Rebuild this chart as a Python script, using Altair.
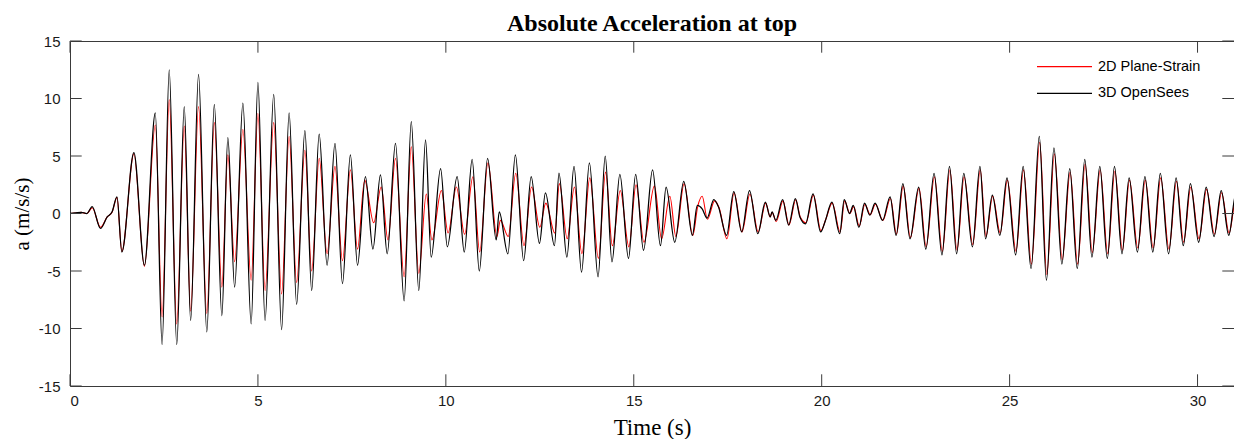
import altair as alt
import pandas as pd

# ---- data (extrema of each oscillation) ----
t_3d = [0.0, 0.14, 0.30, 0.45, 0.59, 0.81, 0.99, 1.12, 1.25, 1.38, 1.70, 1.98, 2.27, 2.45,
        2.64, 2.84, 3.04, 3.21, 3.42, 3.64, 3.84, 4.04, 4.20, 4.38, 4.60, 4.82, 5.00,
        5.19, 5.42, 5.63, 5.83, 6.03, 6.25, 6.43, 6.63, 6.84, 7.05, 7.25, 7.46, 7.65,
        7.86, 8.06, 8.26, 8.44, 8.66, 8.89, 9.08, 9.28, 9.46, 9.61, 9.86, 10.04, 10.30,
        10.49, 10.70, 10.89, 11.11, 11.34, 11.42, 11.65, 11.85, 12.07, 12.27, 12.49, 12.65,
        12.89, 13.01, 13.22, 13.41, 13.61, 13.82, 14.05, 14.24, 14.42, 14.63, 14.86, 15.05,
        15.26, 15.50, 15.71, 15.86, 16.09, 16.33, 16.56, 16.69, 16.82, 16.95, 17.13, 17.25,
        17.47, 17.66, 17.87, 18.08, 18.30, 18.50, 18.63, 18.68, 18.78, 18.96, 19.12, 19.30,
        19.42, 19.57, 19.77, 19.97, 20.10, 20.27, 20.48, 20.60, 20.74, 20.84, 20.99, 21.14,
        21.28, 21.42, 21.62, 21.82, 21.98, 22.16, 22.35, 22.58, 22.77, 22.99, 23.20, 23.40,
        23.59, 23.78, 24.01, 24.21, 24.36, 24.54, 24.74, 24.93, 25.16, 25.36, 25.57, 25.79,
        25.98, 26.18, 26.39, 26.60, 26.80, 27.00, 27.19, 27.40, 27.60, 27.79, 27.99, 28.18,
        28.40, 28.60, 28.81, 29.01, 29.23, 29.43, 29.62, 29.81, 30.03, 30.23, 30.44, 30.63,
        30.83, 31.02, 31.10]
a_3d = [0.0, 0.05, 0.1, 0.0, 0.6, -1.3, -0.3, 0.15, 1.45, -3.35, 5.3, -4.5, 8.75, -11.4,
        12.5, -11.4, 9.3, -9.3, 12.1, -10.3, 9.5, -8.9, 6.6, -6.4, 9.6, -9.6, 11.4,
        -9.3, 10.35, -10.1, 8.75, -7.9, 7.2, -6.7, 6.9, -4.5, 6.1, -6.1, 5.1, -4.5,
        3.2, -3.1, 3.35, -3.5, 6.1, -7.6, 8.0, -6.7, 6.4, -3.8, 3.9, -2.9, 3.2,
        -3.35, 4.7, -5.0, 4.8, -2.3, 0.15, -3.5, 5.1, -4.1, 3.2, -2.6, 1.8,
        -2.8, 3.5, -3.8, 4.1, -5.1, 4.4, -5.5, 5.0, -4.2, 3.4, -3.9, 3.4,
        -3.2, 3.8, -2.8, 2.3, -2.5, 2.8, -1.9, 0.7, 0.4, -0.4, 1.2, 0.6,
        -1.9, 1.9, -1.6, 2.0, -1.75, 1.0, -0.3, 0.15, -0.6, 1.2, -1.0, 1.3,
        -0.3, -0.9, 1.7, -1.6, -0.6, 1.0, -1.75, 1.2, 0.0, 0.7, -1.2, 0.9,
        -0.15, 0.9, -0.6, 1.45, -1.9, 2.6, -2.2, 2.3, -3.1, 3.5, -3.6, 4.1,
        -3.5, 3.5, -2.9, 4.1, -2.2, 1.6, -1.9, 3.1, -3.6, 4.1, -4.8, 6.7,
        -5.8, 5.7, -4.4, 3.9, -4.8, 4.7, -3.8, 4.1, -3.9, 4.1, -3.5, 3.1,
        -3.35, 3.2, -3.35, 3.5, -3.5, 3.1, -2.8, 2.6, -2.5, 2.3, -2.0, 2.0,
        -1.9, 1.75, 0.6]

t_2d = [0.0, 0.14, 0.30, 0.45, 0.59, 0.81, 0.99, 1.12, 1.25, 1.38, 1.70, 1.98, 2.27, 2.45,
        2.64, 2.84, 3.04, 3.21, 3.42, 3.64, 3.84, 4.04, 4.20, 4.38, 4.60, 4.82, 5.00,
        5.19, 5.42, 5.63, 5.83, 6.03, 6.25, 6.43, 6.63, 6.84, 7.05, 7.25, 7.46, 7.65,
        7.84, 8.08, 8.28, 8.46, 8.66, 8.89, 9.08, 9.28, 9.48, 9.63, 9.88, 10.06, 10.28,
        10.50, 10.72, 10.90, 11.12, 11.36, 11.45, 11.66, 11.86, 12.08, 12.28, 12.50, 12.66,
        12.90, 13.02, 13.23, 13.42, 13.62, 13.83, 14.06, 14.25, 14.43, 14.64, 14.87, 15.06,
        15.27, 15.55, 15.74, 15.96, 16.12, 16.34, 16.57, 16.70, 16.82, 16.96, 17.15, 17.27,
        17.48, 17.67, 17.88, 18.09, 18.31, 18.51, 18.63, 18.68, 18.79, 18.97, 19.13, 19.31,
        19.43, 19.58, 19.78, 19.98, 20.11, 20.28, 20.49, 20.61, 20.75, 20.85, 21.00, 21.15,
        21.29, 21.43, 21.63, 21.83, 21.99, 22.17, 22.36, 22.59, 22.78, 23.00, 23.21, 23.41,
        23.60, 23.79, 24.02, 24.22, 24.37, 24.55, 24.75, 24.94, 25.17, 25.37, 25.58, 25.80,
        25.99, 26.19, 26.40, 26.61, 26.81, 27.01, 27.20, 27.41, 27.61, 27.80, 28.00, 28.19,
        28.41, 28.61, 28.82, 29.02, 29.24, 29.44, 29.63, 29.82, 30.04, 30.24, 30.45, 30.64,
        30.84, 31.03, 31.10]
a_2d = [0.0, 0.05, 0.1, 0.0, 0.5, -1.2, -0.3, 0.1, 1.4, -3.3, 5.2, -4.6, 7.7, -9.0,
        9.9, -9.6, 7.6, -8.5, 9.3, -8.7, 7.9, -6.4, 5.1, -4.2, 7.3, -5.8, 8.7,
        -6.7, 7.9, -7.0, 6.7, -6.0, 5.5, -5.0, 4.8, -3.5, 4.1, -4.1, 3.8, -3.1,
        2.9, -0.8, 2.3, -2.3, 4.8, -5.5, 5.8, -5.2, 1.7, -2.3, 2.0, -1.7, 2.3,
        -1.8, 3.2, -3.35, 4.4, -2.0, -0.6, -2.0, 3.5, -2.8, 2.3, -1.2, 0.9,
        -1.7, 2.6, -2.2, 2.3, -3.5, 3.1, -3.9, 3.6, -2.8, 2.0, -2.9, 2.5,
        -2.5, 2.4, -2.2, 1.5, -2.0, 2.6, -1.9, 0.6, 1.5, -0.5, 1.1, 0.5,
        -2.2, 1.8, -1.6, 1.7, -1.6, 0.9, -0.3, 0.1, -0.7, 1.1, -1.0, 1.2,
        -0.3, -0.8, 1.6, -1.5, -0.5, 0.9, -1.6, 1.1, 0.0, 0.6, -1.1, 0.8,
        -0.1, 0.8, -0.6, 1.3, -1.8, 2.4, -2.1, 2.2, -2.9, 3.2, -3.3, 3.8,
        -3.2, 3.2, -2.7, 3.8, -2.0, 1.5, -1.7, 2.9, -3.3, 3.8, -4.4, 6.2,
        -5.3, 5.2, -4.0, 3.6, -4.4, 4.3, -3.4, 3.8, -3.5, 3.7, -3.2, 2.9,
        -3.0, 2.9, -3.0, 3.1, -3.1, 2.8, -2.5, 2.3, -2.2, 2.1, -1.8, 1.8,
        -1.7, 1.5, 0.6]

series_names = ["2D Plane-Strain", "3D OpenSees"]
series_colors = ["#ff0000", "#000000"]
x_ticks = [0, 5, 10, 15, 20, 25, 30]
y_ticks = [-15, -10, -5, 0, 5, 10, 15]
x_domain = [0, 30.97]
y_domain = [-15, 15]

W, H = 1164, 345
TICK = 11.7
FRAME = "#3a3a3a"

df2 = pd.DataFrame({"t": t_2d, "a": a_2d})
df3 = pd.DataFrame({"t": t_3d, "a": a_3d})
dfx = pd.DataFrame({"t": x_ticks})
dfy = pd.DataFrame({"a": y_ticks})

fix_minus = "replace(datum.label, '\u2212', '-')"
xs = alt.Scale(domain=x_domain, nice=False, zero=False)
ys = alt.Scale(domain=y_domain, nice=False, zero=False)
xaxis = alt.Axis(values=x_ticks, title="Time (s)", grid=False, ticks=False, domain=False,
                 labelPadding=7, titlePadding=8, titleFontSize=23, labelExpr=fix_minus)
yaxis = alt.Axis(values=y_ticks, title="a (m/s/s)", grid=False, ticks=False, domain=False,
                 labelPadding=10, titlePadding=6, titleFontSize=21, labelExpr=fix_minus)

X = alt.X("t:Q", scale=xs, axis=xaxis)
Y = alt.Y("a:Q", scale=ys, axis=yaxis)

red = alt.Chart(df2).mark_line(color=series_colors[0], strokeWidth=1.1, interpolate="monotone",
                               clip=True).encode(x=X, y=Y)
black = alt.Chart(df3).mark_line(color=series_colors[1], strokeWidth=1.25, interpolate="monotone",
                                 clip=True).encode(x=X, y=Y)

xt_bot = alt.Chart(dfx).mark_rule(color=FRAME, strokeWidth=1).encode(x=X, y=alt.value(H), y2=alt.value(H - TICK))
xt_top = alt.Chart(dfx).mark_rule(color=FRAME, strokeWidth=1).encode(x=X, y=alt.value(0), y2=alt.value(TICK))
yt_l = alt.Chart(dfy).mark_rule(color=FRAME, strokeWidth=1).encode(y=Y, x=alt.value(0), x2=alt.value(TICK))
yt_r = alt.Chart(dfy).mark_rule(color=FRAME, strokeWidth=1).encode(y=Y, x=alt.value(W - TICK), x2=alt.value(W))

leg_layers = []
for i, (name, col) in enumerate(zip(series_names, series_colors)):
    ld = pd.DataFrame({"name": [name]})
    yy = 25.7 + i * 26.6
    leg_layers.append(alt.Chart(ld).mark_rule(color=col, strokeWidth=1.2).encode(
        x=alt.value(967), x2=alt.value(1022), y=alt.value(yy)))
    leg_layers.append(alt.Chart(ld).mark_text(align="left", baseline="middle", font="Liberation Sans",
                                              fontSize=14.5, color="#000000").encode(
        x=alt.value(1028), y=alt.value(yy), text="name:N"))

chart = alt.layer(red, black, xt_bot, xt_top, yt_l, yt_r, *leg_layers).properties(
    width=W, height=H,
    title=alt.TitleParams("Absolute Acceleration at top", font="Liberation Serif", fontSize=24,
                          fontWeight="bold", color="#000000", anchor="middle", offset=-1.5),
    autosize=alt.AutoSizeParams(type="none"),
    padding={"left": 62, "top": 33, "right": 0, "bottom": 53},
).configure_view(stroke=FRAME, strokeWidth=1).configure_axis(
    labelFont="Liberation Sans", labelFontSize=15, labelColor="#1a1a1a",
    titleFont="Liberation Serif", titleFontWeight="normal", titleColor="#000000"
)

chart.save("out.html", embed_options={"renderer": "svg", "actions": False})
